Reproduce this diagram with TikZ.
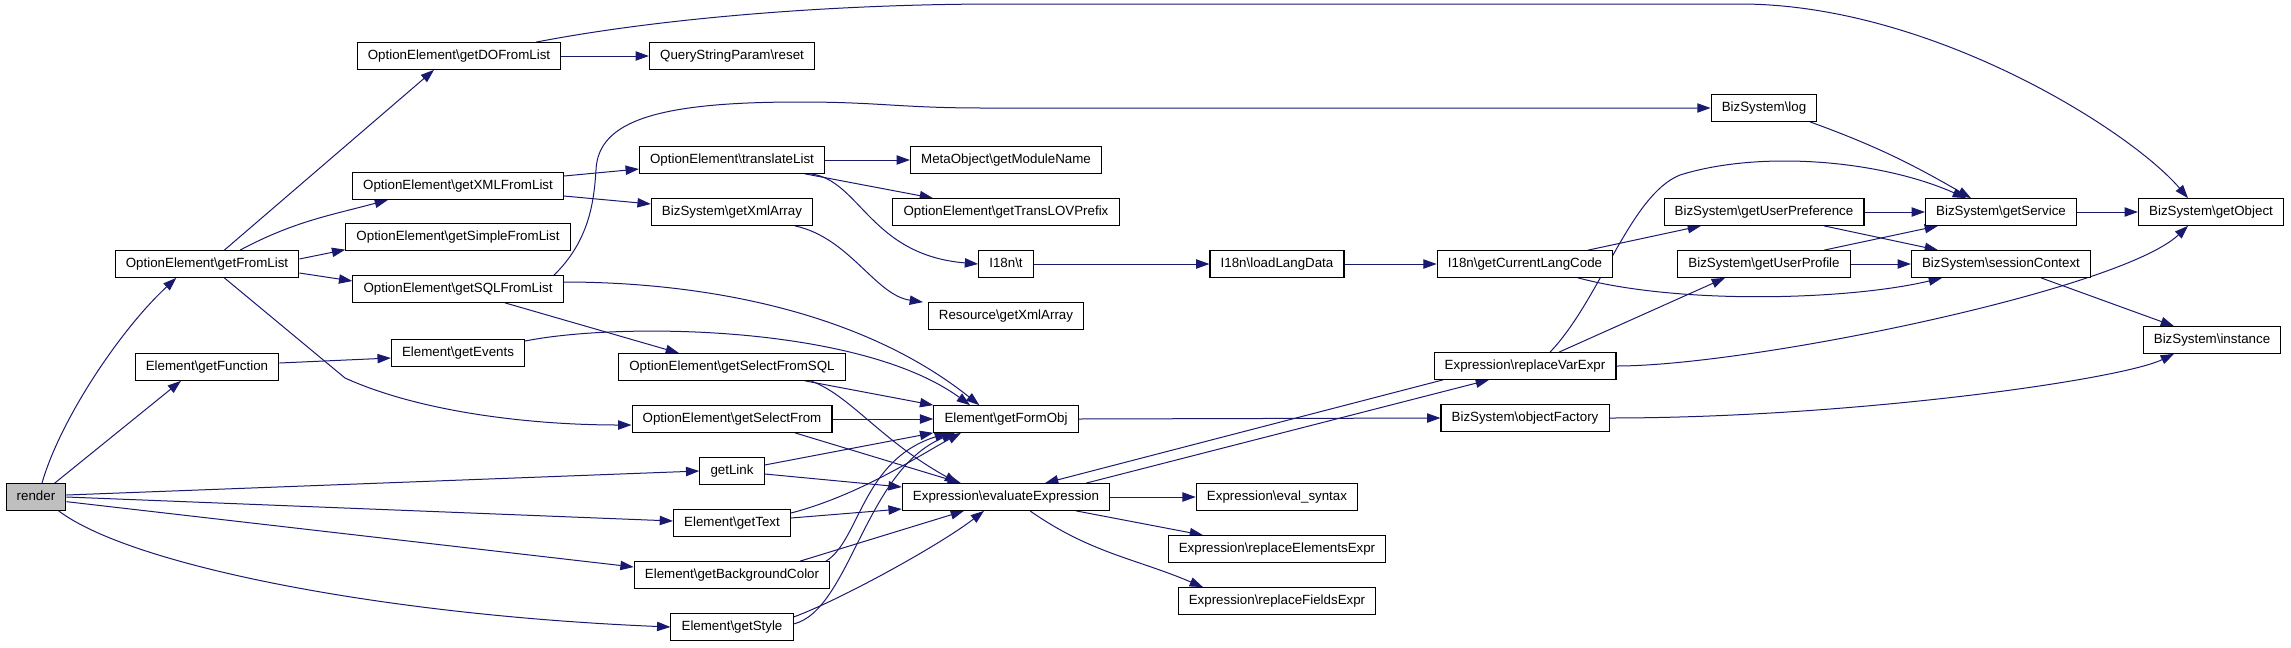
\documentclass[tikz,border=0pt]{standalone}
\usepackage{fontspec}
\setmainfont{Liberation Sans}
\usetikzlibrary{arrows.meta,backgrounds}
\definecolor{edgeblue}{HTML}{191970}
\definecolor{rootgray}{HTML}{BFBFBF}
\newcommand{\nsp}{\textbackslash}
\begin{document}
\begin{tikzpicture}[x=0.75pt,y=-0.75pt,
  fn/.style={draw=black, line width=0.8pt, fill=white, font=\fontsize{10}{12}\selectfont,
    inner xsep=8pt, minimum height=20pt, text height=7.5pt, text depth=2.2pt},
  root/.style={fn, fill=rootgray},
  >={Triangle[length=10pt,width=7pt]},
  call/.style={->, draw=edgeblue, line width=0.75pt}]
\useasboundingbox (0,0) rectangle (2291,647);
\node[root] (render) at (36,497) {render};
\node[fn] (fromlist) at (207,264) {OptionElement\nsp getFromList};
\node[fn] (function) at (207,367) {Element\nsp getFunction};
\node[fn] (dolist) at (459,56) {OptionElement\nsp getDOFromList};
\node[fn] (xmllist) at (458,186) {OptionElement\nsp getXMLFromList};
\node[fn] (simplelist) at (458,237) {OptionElement\nsp getSimpleFromList};
\node[fn] (sqllist) at (458,289) {OptionElement\nsp getSQLFromList};
\node[fn] (events) at (458,353) {Element\nsp getEvents};
\node[fn] (qsreset) at (732,56) {QueryStringParam\nsp reset};
\node[fn] (translate) at (732,160) {OptionElement\nsp translateList};
\node[fn] (bizxml) at (732,212) {BizSystem\nsp getXmlArray};
\node[fn] (selsql) at (732,367) {OptionElement\nsp getSelectFromSQL};
\node[fn] (selfrom) at (732,419) {OptionElement\nsp getSelectFrom};
\node[fn] (link) at (732,471) {getLink};
\node[fn] (gettext) at (732,523) {Element\nsp getText};
\node[fn] (bgcolor) at (732,575) {Element\nsp getBackgroundColor};
\node[fn] (getstyle) at (732,627) {Element\nsp getStyle};
\node[fn] (modname) at (1006,160) {MetaObject\nsp getModuleName};
\node[fn] (lovprefix) at (1006,212) {OptionElement\nsp getTransLOVPrefix};
\node[fn] (i18nt) at (1006,264) {I18n\nsp t};
\node[fn] (resxml) at (1006,316) {Resource\nsp getXmlArray};
\node[fn] (formobj) at (1006,419) {Element\nsp getFormObj};
\node[fn] (evalexpr) at (1006,497) {Expression\nsp evaluateExpression};
\node[fn] (loadlang) at (1277,264) {I18n\nsp loadLangData};
\node[fn] (evalsyn) at (1277,497) {Expression\nsp eval\_syntax};
\node[fn] (elemexpr) at (1277,549) {Expression\nsp replaceElementsExpr};
\node[fn] (fieldexpr) at (1277,601) {Expression\nsp replaceFieldsExpr};
\node[fn] (langcode) at (1525,264) {I18n\nsp getCurrentLangCode};
\node[fn] (varexpr) at (1525,366) {Expression\nsp replaceVarExpr};
\node[fn] (objfact) at (1525,418) {BizSystem\nsp objectFactory};
\node[fn] (bizlog) at (1764,108) {BizSystem\nsp log};
\node[fn] (userpref) at (1764,212) {BizSystem\nsp getUserPreference};
\node[fn] (userprof) at (1764,264) {BizSystem\nsp getUserProfile};
\node[fn] (service) at (2001,212) {BizSystem\nsp getService};
\node[fn] (session) at (2001,264) {BizSystem\nsp sessionContext};
\node[fn] (getobject) at (2211,212) {BizSystem\nsp getObject};
\node[fn] (instance) at (2212,340) {BizSystem\nsp instance};
\begin{scope}[on background layer]
\draw[call] ([xshift=4.5pt]render.north) .. controls (60,420) and (120,330) .. ([xshift=-23pt]fromlist.south);
\draw[call] ([xshift=14pt]render.north) -- ([xshift=-19.5pt]function.south);
\draw[call] ([yshift=1.5pt]render.east) -- (link.west);
\draw[call] (render.east) -- ([yshift=1.5pt]gettext.west);
\draw[call] ([yshift=-3.5pt]render.east) -- ([yshift=6pt]bgcolor.west);
\draw[call] ([xshift=17pt]render.south) .. controls (130,565) and (380,615) .. (getstyle.west);
\draw[call] ([xshift=13pt]fromlist.north) -- ([xshift=-18.75pt]dolist.south);
\draw[call] ([xshift=24.75pt]fromlist.north) to[out=28,in=195] ([xshift=-52.5pt]xmllist.south);
\draw[call] ([yshift=3.75pt]fromlist.east) -- ([yshift=-9.5pt]simplelist.west);
\draw[call] ([yshift=-6.75pt]fromlist.east) -- ([yshift=6pt]sqllist.west);
\draw[call] ([xshift=13pt]fromlist.south) -- (345,378) .. controls (420,412) and (530,425) .. ([yshift=-4.5pt]selfrom.west);
\draw[call] ([yshift=3pt]function.east) -- ([yshift=-3.75pt]events.west);
\draw[call] (dolist.east) -- (qsreset.west);
\draw[call] ([xshift=57.75pt]dolist.north) .. controls (650,20) and (820,4) .. (1000,4) -- (1740,4)
  .. controls (1930,4) and (2130,130) .. ([xshift=-17.25pt]getobject.north);
\draw[call] ([yshift=7.5pt]xmllist.east) -- ([yshift=-6.75pt]translate.west);
\draw[call] ([yshift=-7.5pt]xmllist.east) -- ([yshift=6pt]bizxml.west);
\draw[call] ([xshift=72pt]sqllist.north) .. controls (590,240) and (594,200) .. (596,170)
  .. controls (598,120) and (660,102) .. (800,102) .. controls (880,102) and (900,108) .. (984,108) -- (bizlog.west);
\draw[call] ([yshift=5.25pt]sqllist.east) .. controls (700,282) and (860,310) .. ([xshift=-20pt]formobj.north);
\draw[call] ([xshift=35.25pt]sqllist.south) -- ([xshift=-39.75pt]selsql.north);
\draw[call] ([yshift=9pt]events.east) .. controls (620,322) and (860,325) .. ([xshift=-27pt]formobj.north);
\draw[call] (translate.east) -- (modname.west);
\draw[call] ([xshift=54.75pt]translate.south) -- ([xshift=-54.75pt]lovprefix.north);
\draw[call] ([xshift=59pt]translate.south) .. controls (860,180) and (870,255) .. (i18nt.west);
\draw[call] ([xshift=47.25pt]bizxml.south) .. controls (850,238) and (875,295) .. ([xshift=-62.25pt]resxml.north);
\draw[call] ([xshift=54.75pt]selsql.south) -- (formobj.north west);
\draw[call] ([xshift=59pt]selsql.south) .. controls (850,395) and (880,440) .. ([xshift=-36pt]evalexpr.north);
\draw[call] (selfrom.east) -- (formobj.west);
\draw[call] ([xshift=47.25pt]selfrom.south) -- ([xshift=-33.75pt]evalexpr.north);
\draw[call] ([yshift=4.5pt]link.east) -- (formobj.south west);
\draw[call] ([yshift=-2.25pt]link.east) -- ([yshift=7.5pt]evalexpr.west);
\draw[call] ([yshift=7.5pt]gettext.east) .. controls (860,495) and (920,455) .. ([xshift=-33.75pt]formobj.south);
\draw[call] ([yshift=3.75pt]gettext.east) -- ([yshift=-9pt]evalexpr.west);
\draw[call] ([xshift=70.5pt]bgcolor.north) .. controls (860,540) and (862,460) .. ([xshift=-43.5pt]formobj.south);
\draw[call] ([xshift=51pt]bgcolor.north) -- ([xshift=-31.5pt]evalexpr.south);
\draw[call] ([yshift=2.25pt]getstyle.east) .. controls (850,610) and (865,470) .. ([xshift=-38.25pt]formobj.south);
\draw[call] ([yshift=7.5pt]getstyle.east) .. controls (840,600) and (940,545) .. ([xshift=-16.5pt]evalexpr.south);
\draw[call] (formobj.east) -- (objfact.west);
\draw[call] ([xshift=60pt]evalexpr.north) -- ([xshift=-27pt]varexpr.south);
\draw[call] (evalexpr.east) -- (evalsyn.west);
\draw[call] ([xshift=52.5pt]evalexpr.south) -- ([xshift=-55.5pt]elemexpr.north);
\draw[call] ([xshift=18pt]evalexpr.south) to[out=-35,in=157] ([xshift=-55.5pt]fieldexpr.north);
\draw[call] ([xshift=-61.5pt]varexpr.south) -- ([xshift=29.25pt]evalexpr.north);
\draw[call] ([xshift=18.75pt]varexpr.north) .. controls (1600,300) and (1630,195) .. (1680,175)
  .. controls (1760,150) and (1880,160) .. ([xshift=-26.25pt]service.north);
\draw[call] ([xshift=25.5pt]varexpr.north) -- ([xshift=-29.25pt]userprof.south);
\draw[call] (varexpr.east) .. controls (1750,366) and (2120,290) .. ([xshift=-17.25pt]getobject.south);
\draw[call] (objfact.east) .. controls (1850,418) and (2120,380) .. ([xshift=-28.5pt]instance.south);
\draw[call] (i18nt.east) -- (loadlang.west);
\draw[call] (loadlang.east) -- (langcode.west);
\draw[call] ([xshift=47.25pt]langcode.north) -- ([xshift=-47.25pt]userpref.south);
\draw[call] ([xshift=39.75pt]langcode.south) .. controls (1680,305) and (1850,300) .. ([xshift=-44.25pt]session.south);
\draw[call] ([xshift=34.5pt]bizlog.south) to[out=-20,in=150] ([xshift=-22.5pt]service.north);
\draw[call] (userpref.east) -- (service.west);
\draw[call] ([xshift=45pt]userpref.south) -- ([xshift=-47.25pt]session.north);
\draw[call] ([xshift=45pt]userprof.north) -- ([xshift=-47.25pt]service.south);
\draw[call] (userprof.east) -- (session.west);
\draw[call] (service.east) -- (getobject.west);
\draw[call] ([xshift=30pt]session.south) -- ([xshift=-28.5pt]instance.north);
\end{scope}
\end{tikzpicture}
\end{document}
